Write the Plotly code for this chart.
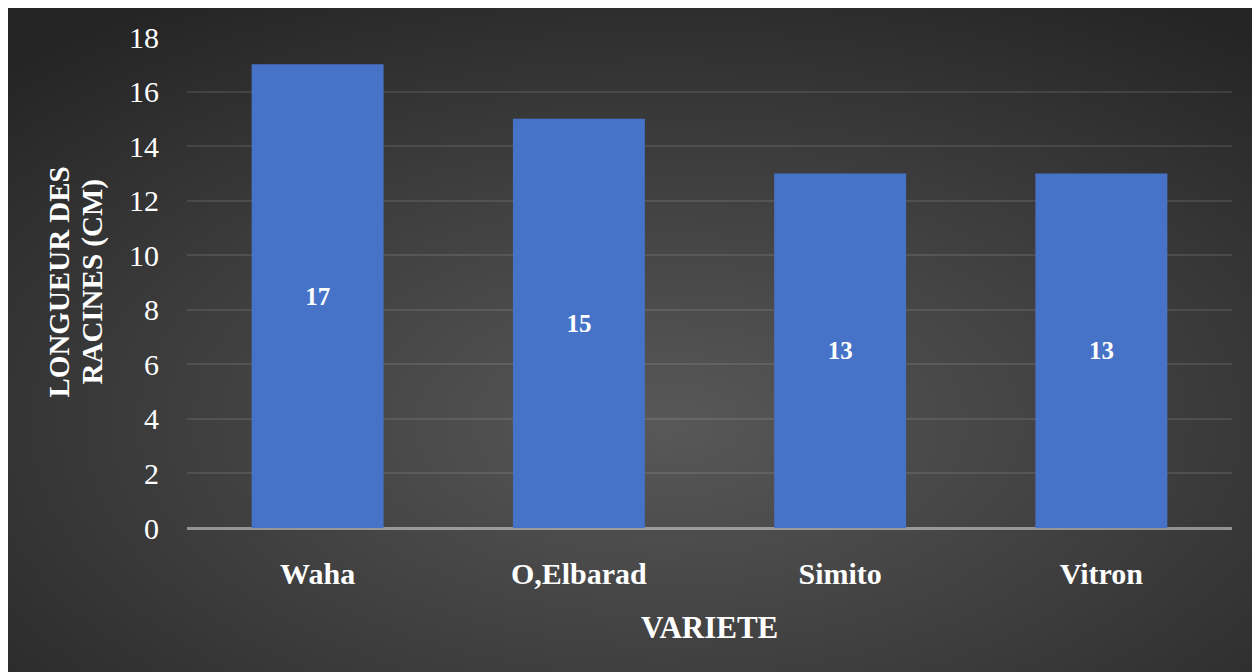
import base64
import plotly.graph_objects as go

categories = ["Waha", "O,Elbarad", "Simito", "Vitron"]
values = [17, 15, 13, 13]
y_ticks = [0, 2, 4, 6, 8, 10, 12, 14, 16, 18]

W, H = 1260, 672
OFF = 8  # page offset of the figure inside the browser
ML, MT = 187 - OFF, 37 - OFF
PR, PB = 1232 - OFF, 528 - OFF
MR, MB = W - PR, H - PB
PW, PH = PR - ML, PB - MT

svg = (
    '<svg xmlns="http://www.w3.org/2000/svg" width="1260" height="672" preserveAspectRatio="none">'
    '<defs><radialGradient id="g" cx="52%" cy="62%" r="75%" fx="52%" fy="62%">'
    '<stop offset="0%" stop-color="#585858"/>'
    '<stop offset="55%" stop-color="#3c3c3c"/>'
    '<stop offset="100%" stop-color="#242424"/>'
    '</radialGradient></defs>'
    '<rect x="0" y="0" width="1260" height="672" fill="url(#g)"/></svg>'
)
bg_src = "data:image/svg+xml;base64," + base64.b64encode(svg.encode()).decode()

FONT = "Liberation Serif, Times New Roman, serif"

fig = go.Figure()
fig.add_trace(go.Bar(
    x=categories, y=values,
    width=0.505,
    marker=dict(color="#4673c7", line=dict(width=0)),
    text=[str(v) for v in values],
    textposition="inside",
    insidetextanchor="middle",
    textfont=dict(family=FONT, size=25, color="white", weight="bold"),
    textangle=0,
))

fig.update_layout(
    width=W, height=H,
    margin=dict(l=ML, r=MR, t=MT, b=MB, pad=0),
    paper_bgcolor="#2a2a2a",
    plot_bgcolor="rgba(0,0,0,0)",
    showlegend=False,
    font=dict(family=FONT, color="white"),
    images=[dict(
        source=bg_src, xref="paper", yref="paper",
        x=-ML / PW, y=1 + MT / PH,
        sizex=W / PW, sizey=H / PH,
        xanchor="left", yanchor="top", sizing="stretch", layer="below",
    )],
    xaxis=dict(
        showgrid=False, zeroline=False, showline=False,
        tickfont=dict(family=FONT, size=30, color="white", weight="bold"),
        ticks="outside", ticklen=19, tickcolor="rgba(0,0,0,0)",
    ),
    yaxis=dict(
        range=[0, 18], tickvals=y_ticks,
        showgrid=True, gridcolor="rgba(255,255,255,0.10)", gridwidth=1.5,
        zeroline=True, zerolinecolor="rgba(255,255,255,0.45)", zerolinewidth=2.5,
        showline=False,
        tickfont=dict(family=FONT, size=30, color="white"),
        ticks="outside", ticklen=21, tickcolor="rgba(0,0,0,0)",
    ),
    annotations=[
        dict(text="<b>LONGUEUR DES</b>", xref="paper", yref="paper",
             x=(58 - OFF - ML) / PW, y=0.5, xanchor="center", yanchor="middle",
             textangle=-90, showarrow=False,
             font=dict(family=FONT, size=29, color="white")),
        dict(text="<b>RACINES (CM)</b>", xref="paper", yref="paper",
             x=(92 - OFF - ML) / PW, y=0.5, xanchor="center", yanchor="middle",
             textangle=-90, showarrow=False,
             font=dict(family=FONT, size=29, color="white")),
        dict(text="<b>VARIETE</b>", xref="paper", yref="paper",
             x=0.5, y=-(627 - OFF - PB) / PH, xanchor="center", yanchor="middle",
             showarrow=False,
             font=dict(family=FONT, size=31, color="white")),
    ],
)

fig.write_html("out.html", post_script="document.body.style.overflow='hidden';")
